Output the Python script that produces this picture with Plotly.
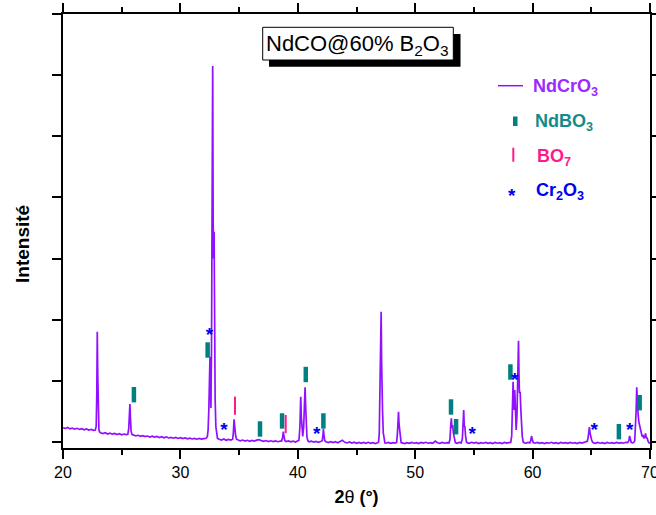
import plotly.graph_objects as go

# ---------------- data ----------------
two_theta = [
    20.0, 20.2, 20.4, 20.6, 20.8, 21.0, 21.2, 21.4, 21.6, 21.8, 22.0, 22.2, 22.4, 22.6,
    22.75, 22.83, 22.88, 22.92, 22.96, 23.00, 23.06, 23.12,
    23.2, 23.4, 23.6, 23.8, 24.0, 24.2, 24.4, 24.6, 24.8, 25.0, 25.2, 25.4,
    25.52, 25.60, 25.66, 25.70, 25.74, 25.80, 25.88,
    26.0, 26.2, 26.4, 26.6, 26.8, 27.0, 27.2, 27.4, 27.6, 27.8, 28.0, 28.2, 28.4, 28.6, 28.8,
    29.0, 29.2, 29.4, 29.6, 29.8, 30.0, 30.2, 30.4, 30.6, 30.8, 31.0, 31.2, 31.4, 31.6, 31.8,
    32.0, 32.2,
    32.30, 32.36, 32.42, 32.47, 32.52, 32.56, 32.60, 32.65, 32.70, 32.75, 32.79, 32.83, 32.87,
    32.91, 32.96, 33.02, 33.09, 33.16,
    33.3, 33.5, 33.7, 33.9, 34.1, 34.3,
    34.45, 34.51, 34.57, 34.61, 34.65, 34.70, 34.78,
    34.9, 35.1, 35.3, 35.5, 35.7, 35.9, 36.1, 36.3, 36.5, 36.7, 36.9, 37.1, 37.3, 37.5, 37.7,
    37.9, 38.1, 38.3, 38.5,
    38.62, 38.70, 38.77, 38.82, 38.90,
    39.0, 39.2, 39.4, 39.6, 39.8, 40.0,
    40.10, 40.18, 40.25, 40.30, 40.35, 40.42, 40.50, 40.56, 40.62, 40.67, 40.72, 40.78, 40.86,
    40.95, 41.15, 41.35, 41.55, 41.75, 41.95,
    42.08, 42.14, 42.18, 42.23, 42.30,
    42.4, 42.6, 42.8, 43.0, 43.2, 43.4, 43.6, 43.8, 44.0, 44.2, 44.4, 44.6, 44.8, 45.0, 45.2,
    45.4, 45.6, 45.8, 46.0, 46.2, 46.4, 46.6, 46.8,
    46.88, 46.94, 46.98, 47.02, 47.06, 47.10, 47.14, 47.18, 47.22, 47.28, 47.35, 47.42,
    47.5, 47.7, 47.9, 48.1, 48.3,
    48.42, 48.48, 48.53, 48.58, 48.62, 48.67, 48.73, 48.80,
    48.9, 49.1, 49.3, 49.5, 49.7, 49.9, 50.1, 50.3, 50.5, 50.7, 50.9, 51.1, 51.3, 51.5, 51.7,
    51.9, 52.1, 52.3, 52.5, 52.7,
    52.88, 52.96, 53.02, 53.08, 53.13, 53.19, 53.25, 53.33, 53.42,
    53.55, 53.75, 53.92,
    54.02, 54.08, 54.13, 54.18, 54.23, 54.29, 54.37, 54.46,
    54.6, 54.8, 55.0, 55.2, 55.4, 55.6, 55.8, 56.0, 56.2, 56.4, 56.6, 56.8, 57.0, 57.2, 57.4,
    57.6, 57.8, 58.0,
    58.14, 58.22, 58.28, 58.34, 58.39, 58.43, 58.48, 58.54, 58.60, 58.67, 58.73, 58.80, 58.84,
    58.88, 58.94, 59.00, 59.05, 59.12, 59.20, 59.30,
    59.45, 59.6, 59.75,
    59.84, 59.88, 59.92, 59.97, 60.05,
    60.2, 60.4, 60.6, 60.8, 61.0, 61.2, 61.4, 61.6, 61.8, 62.0, 62.2, 62.4, 62.6, 62.8, 63.0,
    63.2, 63.4, 63.6, 63.8, 64.0, 64.2, 64.4, 64.55,
    64.65, 64.72, 64.78, 64.84, 64.89, 64.95, 65.02, 65.10, 65.20,
    65.35, 65.55, 65.75, 65.95, 66.15, 66.35, 66.55, 66.75, 66.95, 67.15, 67.35, 67.55, 67.75,
    67.95, 68.1,
    68.2, 68.26, 68.32, 68.40, 68.5, 68.6,
    68.70, 68.76, 68.82, 68.87, 68.92, 68.98, 69.05, 69.12, 69.18, 69.25, 69.33, 69.40, 69.47,
    69.55, 69.62, 69.68, 69.76, 69.84, 69.92, 70.0,
]
intensity = [
    234, 222, 238, 215, 228, 210, 224, 206, 218, 200, 214, 196, 205, 190,
    195, 260, 800, 1805, 1100, 420, 200, 165,
    150, 138, 152, 130, 145, 128, 140, 122, 135, 118, 130, 120,
    125, 220, 450, 620, 420, 180, 120,
    112, 100, 110, 92, 104, 88, 98, 82, 95, 80, 90, 74, 86, 70, 82,
    66, 76, 62, 74, 58, 70, 55, 66, 52, 64, 50, 60, 46, 58, 48,
    56, 62,
    90, 200, 520, 1000, 1395, 900, 556, 1500, 3800, 6150, 3600, 3000, 3440,
    1800, 700, 250, 100, 60,
    45, 32, 50, 28, 42, 30,
    45, 150, 370, 220, 230, 110, 45,
    30, 18, 32, 15, 28, 12, 25, 14, 30, 40, 22, 10, 24, 8, 20,
    6, 18, 5, 15,
    15, 70, 170, 90, 20,
    8, 18, 2, 15, 0, 12,
    30, 250, 740, 414, 200, 90, 250, 650, 895, 577, 250, 80, 20,
    5, 15, -2, 10, -5, 8,
    20, 110, 212, 110, 20,
    5, -8, 6, -10, 4, -12, 10, 30, -5, -15, 0, -18, -4, -20, -6,
    -22, -8, -20, -5, -22, -10, -25, -12,
    0, 150, 800, 1850, 1500, 2130, 1300, 640, 500, 150, 10, -15,
    -20, -8, -22, -10, -18,
    -5, 120, 250, 496, 300, 220, 60, -10,
    -15, -25, -10, -22, -8, -20, -12, -25, -8, -18, -5, -20, -10, -22, 15,
    -12, -22, -8, -20, -10,
    -15, 40, 250, 387, 230, 278, 150, 30, -10,
    -20, -8, -15,
    60, 300, 523, 250, 262, 100, 0, -15,
    -22, -5, -18, -8, -24, -10, -20, -6, -22, -12, -25, -8, -20, -10, -24,
    -6, -18, -10,
    -5, 100, 600, 987, 650, 523, 850, 500, 196, 450, 1100, 1657, 1100,
    800, 823, 520, 310, 90, 0, -15,
    -20, -8, -15,
    20, 70, 98, 40, -10,
    -20, -8, -22, -10, -24, -12, -20, -5, -22, -10, -25, -8, -18, -12, -22,
    -6, -20, -10, -24, -8, -18, -10, -5,
    10, 60, 170, 245, 150, 80, 40, 0, -15,
    -22, -8, -20, -10, -24, -6, -20, -12, -22, -8, -18, -10, -20,
    -5, -10,
    20, 100, 40, -5, -15, -8,
    20, 200, 520, 895, 620, 470, 330, 260, 230, 170, 90, 115, 60,
    80, 140, 70, 65, 10, -15, -15,
]

# phase markers (2theta, intensity position)
ndbo3_x = [26.04, 32.32, 36.78, 38.66, 40.68, 42.18, 53.05, 53.48, 58.11, 67.35, 69.12]
ndbo3_y = [774, 1505, 213, 344, 1104, 344, 573, 250, 1145, 169, 643]
bo7_x = [34.65, 38.97]
bo7_y = [594, 294]
cr2o3_x = [32.48, 33.71, 41.62, 54.85, 58.48, 65.25, 68.27]
cr2o3_y = [1723, 180, 103, 103, 987, 180, 180]

x_ticks = [20, 30, 40, 50, 60, 70]
y_ticks = [0, 1000, 2000, 3000, 4000, 5000, 6000, 7000]

legend_names = ["NdCrO<sub>3</sub>", "NdBO<sub>3</sub>", "BO<sub>7</sub>", "Cr<sub>2</sub>O<sub>3</sub>"]
title_text = "NdCO@60% B<sub>2</sub>O<sub>3</sub>"

# ---------------- styling ----------------
FONT = "Liberation Sans, Arial, sans-serif"
PURPLE = "#9010FF"
TEAL = "#008080"
PINK = "#FF1A8C"
BLUE = "#0000F0"

W, H = 656, 515
L, R, T, B = 63, 6, 14, 67
PW, PH = W - L - R, H - T - B


def px(x):
    return (x - L) / PW


def py(y):
    return (H - B - y) / PH


fig = go.Figure()
fig.add_trace(go.Scatter(x=two_theta, y=intensity, mode="lines",
                         line=dict(color=PURPLE, width=1.7), showlegend=False,
                         hoverinfo="skip"))
fig.add_trace(go.Scatter(x=ndbo3_x, y=ndbo3_y, mode="markers", showlegend=False,
                         marker=dict(symbol="line-ns", size=11,
                                     line=dict(color=TEAL, width=4.5))))
fig.add_trace(go.Scatter(x=bo7_x, y=bo7_y, mode="markers", showlegend=False,
                         marker=dict(symbol="line-ns", size=13,
                                     line=dict(color=PINK, width=2))))
fig.add_trace(go.Scatter(x=cr2o3_x, y=cr2o3_y, mode="text", text=["*"] * len(cr2o3_x),
                         textposition="middle center", showlegend=False,
                         textfont=dict(family=FONT, size=19, color=BLUE, weight="bold")))

shapes = [
    # title box shadow and box
    dict(type="rect", xref="paper", yref="paper", x0=px(269), x1=px(460.5), y0=py(66.7), y1=py(34),
         fillcolor="black", line=dict(width=0)),
    dict(type="rect", xref="paper", yref="paper", x0=px(262.7), x1=px(453.3), y0=py(60), y1=py(27.3),
         fillcolor="white", line=dict(color="black", width=1)),
    # legend symbols
    dict(type="line", xref="paper", yref="paper", x0=px(498), x1=px(523), y0=py(85.7), y1=py(85.7),
         line=dict(color=PURPLE, width=1.5)),
    dict(type="rect", xref="paper", yref="paper", x0=px(513), x1=px(517.5), y0=py(126), y1=py(116.5),
         fillcolor=TEAL, line=dict(width=0)),
    dict(type="line", xref="paper", yref="paper", x0=px(513.3), x1=px(513.3), y0=py(161.7), y1=py(147.7),
         line=dict(color=PINK, width=2)),
]

annotations = [
    dict(text=title_text, xref="paper", yref="paper", x=px(358), y=py(45), showarrow=False,
         xanchor="center", yanchor="middle", font=dict(family=FONT, size=22, color="black")),
    dict(text="*", xref="paper", yref="paper", x=px(511.7), y=py(196), showarrow=False,
         xanchor="center", yanchor="middle", font=dict(family=FONT, size=19, color=BLUE, weight="bold")),
    dict(text="<b>Intensité</b>", xref="paper", yref="paper", x=px(22), y=py(244), showarrow=False,
         textangle=-90, xanchor="center", yanchor="middle",
         font=dict(family=FONT, size=19, color="black")),
]
legend_colors = ["#9A2AFF", "#128C8A", PINK, BLUE]
legend_pos = [(531, 87.5), (532.5, 122.5), (534.5, 157.5), (533.5, 191.5)]
for name, col, (lx, ly) in zip(legend_names, legend_colors, legend_pos):
    annotations.append(dict(text="<b>" + name + "</b>", xref="paper", yref="paper", x=px(lx), y=py(ly),
                            showarrow=False, xanchor="left", yanchor="middle",
                            font=dict(family=FONT, size=18, color=col)))

fig.update_layout(
    width=W, height=H,
    margin=dict(l=L, r=R, t=T, b=B, pad=0, autoexpand=False),
    paper_bgcolor="white", plot_bgcolor="white",
    font=dict(family=FONT, color="black"),
    shapes=shapes, annotations=annotations,
    showlegend=False,
)
fig.update_xaxes(
    automargin=False, ticklabeloverflow="allow",
    range=[20, 70], tickvals=x_ticks, ticktext=[str(v) for v in x_ticks],
    ticks="outside", ticklen=9, tickwidth=1.5, tickcolor="black",
    minor=dict(dtick=5, tick0=20, ticks="outside", ticklen=5, tickwidth=1.5, tickcolor="black", showgrid=False),
    showline=True, linecolor="black", linewidth=1.6, mirror="allticks",
    showgrid=False, zeroline=False,
    tickfont=dict(family=FONT, size=16, color="black"),
    title=dict(text="<b>2</b>θ <b>(°)</b>", font=dict(family=FONT, size=18, color="black"), standoff=10),
)
fig.update_yaxes(
    automargin=False,
    range=[-98, 7000], tickvals=y_ticks, showticklabels=False,
    ticks="outside", ticklen=9, tickwidth=1.5, tickcolor="black",
    showline=True, linecolor="black", linewidth=1.6, mirror="allticks",
    showgrid=False, zeroline=False,
)

fig.write_html("out.html", config={"displayModeBar": False},
               post_script="document.body.style.margin='0';document.body.style.overflow='hidden';")
